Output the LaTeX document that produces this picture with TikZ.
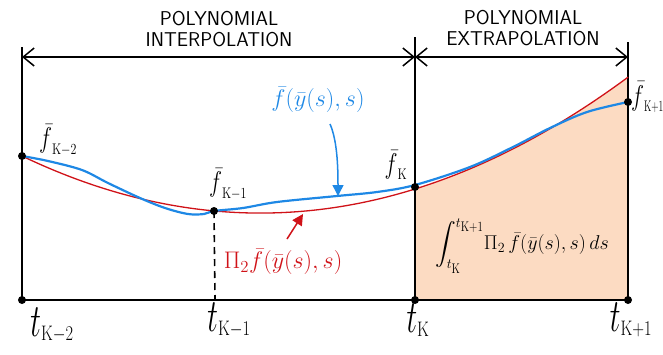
\documentclass[tikz,border=0pt]{standalone}
\usepackage{fix-cm}
\usepackage{amsmath}
\usepackage{graphicx}
\usetikzlibrary{arrows.meta}
\definecolor{peach}{RGB}{252,219,194}
\definecolor{cred}{RGB}{208,18,24}
\definecolor{cblue}{RGB}{30,136,229}
\newcommand\cs[1]{\scalebox{0.78}[1]{$\scriptstyle\mathrm{#1}$}}
\newcommand\csn[1]{\scalebox{0.62}[1]{$\scriptstyle\mathrm{#1}$}}
\newcommand\tallf{\scalebox{1}[1.3]{$\bar{f}$}}
\newcommand\tallt{\scalebox{1}[1.55]{$t$}}
\begin{document}
\begin{tikzpicture}[x=1pt,y=-1pt,
  axisline/.style={line width=1.6pt, black},
  dimarrow/.style={line width=1.5pt, {Straight Barb[length=11pt,width=18pt,line width=1.5pt]}-{Straight Barb[length=11pt,width=18pt,line width=1.5pt]}},
  dot/.style={circle, fill=black, inner sep=0pt, minimum size=8pt},
  flbl/.style={inner sep=0pt, font=\fontsize{22}{26}\selectfont},
  clbl/.style={inner sep=0pt, font=\fontsize{24}{28}\selectfont},
  ilbl/.style={inner sep=0pt, font=\fontsize{20}{24}\selectfont},
  tlbl/.style={inner sep=0pt, font=\fontsize{30}{34}\selectfont},
  title/.style={inner sep=0pt, align=center, font=\fontsize{20}{21}\selectfont\sffamily},
  redcurve/.style={line width=1.3pt, cred},
  bluecurve/.style={line width=2.2pt, cblue},
  pointer/.style={line width=1.5pt, -{Triangle[length=11pt,width=11pt]}},
]
\useasboundingbox (0,0) rectangle (663,354);
% frame points
\coordinate (T0) at (22,47);
\coordinate (T2) at (415,37);
\coordinate (T3) at (628,42);
\coordinate (A0) at (22,57);
\coordinate (A2) at (415,57);
\coordinate (A3) at (628,57);
\coordinate (B1) at (215,300);
% fill under red curve
\fill[peach] (415,300) -- plot[domain=415:628, samples=40] (\x, {156+0.28497*(\x-22)-10.05*((\x-22)/100)*((\x-215)/100)}) -- (628,300) -- cycle;
% vertical and base lines
\node[dot] (B0) at (22,300) {};
\node[dot] (B2) at (415,300) {};
\node[dot] (B3) at (628,300) {};
\draw[axisline] (T0) -- (B0.center);
\draw[axisline] (T2) -- (B2.center);
\draw[axisline] (T3) -- (B3.center);
\draw[axisline] (B0.center) -- (B3.center);
% dimension arrows
\draw[dimarrow] (A0) -- (A2);
\draw[dimarrow] (A2) -- (A3);
\node[title] (tint) at (219,29) {POLYNOMIAL\\INTERPOLATION};
\node[title] (text) at (523,28) {POLYNOMIAL\\EXTRAPOLATION};
% curves
\draw[redcurve] plot[domain=22:628, samples=120] (\x, {156+0.28497*(\x-22)-10.05*((\x-22)/100)*((\x-215)/100)});
\draw[bluecurve] plot[smooth, tension=0.55] coordinates {(22,156) (48,161) (82,170) (108,183) (140,198) (165,208) (188,214) (204,214) (214,211) (243,208) (277,202) (337,196) (377,192) (415,185) (470,167) (513,147) (550,128) (587,112) (628,102)};
% dots on curve
\node[dot] (fk2) at (22,156) {};
\node[dot] (fk1) at (214,211) {};
\node[dot] (fk) at (415,187) {};
\node[dot] (fk3) at (628,102) {};
\draw[axisline, dash pattern=on 7pt off 5pt] (fk1.center) -- (B1);
% f labels
\node[flbl] (lfk2) at (58,140) {$\tallf_{\cs{K-2}}$};
\node[flbl] (lfk1) at (228,184) {$\tallf_{\cs{K-1}}$};
\node[flbl] (lfk) at (396,165) {$\tallf_{\cs{K}}$};
\node[flbl, anchor=west] (lfk3) at (631,97) {$\tallf_{\csn{K+1}}$};
% t labels
\node[tlbl] (tk2) at (52,325) {$\tallt_{\cs{K-2}}$};
\node[tlbl] (tk1) at (229,320) {$\tallt_{\cs{K-1}}$};
\node[tlbl] (tk) at (418,320) {$\tallt_{\cs{K}}$};
\node[tlbl] (tk3) at (631,320) {$\tallt_{\cs{K+1}}$};
% curve labels
\node[clbl, text=cblue] (lblue) at (318,100) {$\bar{f}(\bar{y}(s),s)$};
\coordinate (ba1) at (330,124);
\coordinate (ba2) at (338,196);
\draw[pointer, cblue] (ba1) .. controls (337,140) and (338,165) .. (ba2);
\node[clbl, text=cred] (lred) at (283,262) {$\Pi_2\bar{f}(\bar{y}(s),s)$};
\coordinate (ra1) at (287,239);
\coordinate (ra2) at (303,214);
\draw[pointer, cred] (ra1) -- (ra2);
% integral
\node[ilbl] (integ) at (522,246) {$\displaystyle\int_{t_{\cs{K}}}^{t_{\cs{K+1}}}\!\Pi_2\,\bar{f}(\bar{y}(s),s)\,ds$};
\end{tikzpicture}
\end{document}
